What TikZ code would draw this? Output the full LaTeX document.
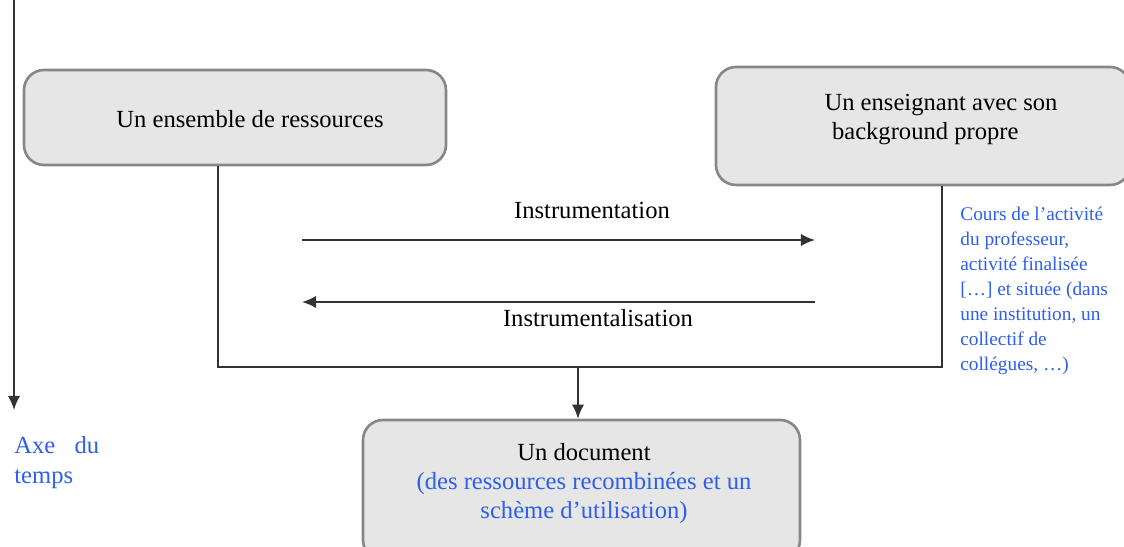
\documentclass[tikz,border=0pt]{standalone}
\usepackage{fontspec}
\setmainfont{Liberation Serif}
\usepackage{tikz}
\usetikzlibrary{arrows.meta,positioning}
\definecolor{bleu}{RGB}{45,95,235}
\definecolor{fond}{RGB}{230,230,230}
\definecolor{bord}{RGB}{135,135,135}
\definecolor{trait}{RGB}{50,50,50}

\begin{document}
\begin{tikzpicture}[
    boite/.style={draw=bord, fill=fond, line width=1.5pt, rounded corners=0.4cm},
    texte/.style={font=\fontsize{14}{16.5}\selectfont, align=center, inner sep=0pt},
    note/.style={text=bleu, align=left, inner sep=0pt},
    lien/.style={draw=trait, line width=1pt},
    fleche/.style={lien, -{Latex[length=8pt,width=7pt]}}
]
    \clip (0,0) rectangle (22.48,10.94);
    \useasboundingbox (0,0) rectangle (22.48,10.94);

    % les trois boites
    \node[boite, minimum width=8.44cm, minimum height=1.9cm] (ressources) at (4.70,8.59) {};
    \node[texte] (tressources) at (5.0,8.56) {Un ensemble de ressources};

    \node[boite, minimum width=8.28cm, minimum height=2.36cm] (enseignant) at (18.46,8.42) {};
    \node[texte, align=left] (tenseignant) at (18.82,8.54) {Un enseignant avec son\\\hspace{0.15cm}background propre};

    \node[boite, minimum width=8.74cm, minimum height=2.8cm] (document) at (11.63,1.14) {};
    \node[texte] (tdocument) at (11.68,1.26)
        {Un document\\\textcolor{bleu}{(des ressources recombinées et un}\\\textcolor{bleu}{schème d'utilisation)}};

    % axe du temps
    \coordinate (t0) at (0.28,10.94);
    \coordinate (t1) at (0.28,2.74);
    \draw[fleche] (t0) -- (t1);
    \node[note, font=\fontsize{14}{17}\selectfont, anchor=west] (axe) at (0.28,1.68) {Axe\hspace{11pt}du\\temps};

    % regroupement vers le document
    \coordinate (g) at (4.36,3.6);
    \coordinate (d) at (18.84,3.6);
    \coordinate (jonction) at (11.56,3.6);
    \draw[lien] (ressources.south -| g) -- (g) -- (d) -- (enseignant.south -| d);
    \draw[fleche] (jonction) -- (document.north -| jonction);

    % genese instrumentale
    \coordinate (i1) at (6.04,6.14);
    \coordinate (i2) at (16.30,6.14);
    \coordinate (j1) at (16.30,4.90);
    \coordinate (j2) at (6.04,4.90);
    \draw[fleche] (i1) -- (i2);
    \draw[fleche] (j1) -- (j2);
    \node[texte] (instrumentation) at (11.84,6.74) {Instrumentation};
    \node[texte] (instrumentalisation) at (11.96,4.58) {Instrumentalisation};

    \node[note, font=\fontsize{11}{14.2}\selectfont, anchor=west] (cours) at (19.2,5.12)
        {Cours de l'activité\\du professeur,\\activité finalisée\\{[\ldots]} et située (dans\\une institution, un\\collectif de\\collégues, \ldots)};
\end{tikzpicture}
\end{document}
